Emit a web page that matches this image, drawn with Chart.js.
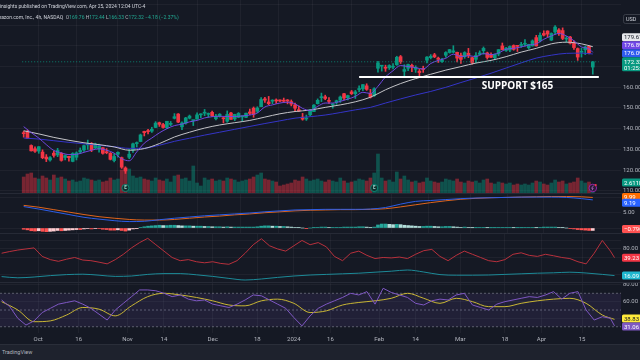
<!DOCTYPE html>
<html>
<head>
<meta charset="utf-8">
<script src="https://cdn.jsdelivr.net/npm/chart.js@4.4.1/dist/chart.umd.min.js"></script>
<style>
html, body { margin:0; padding:0; width:640px; height:360px; overflow:hidden; background:#151924; }
canvas { position:absolute; left:0; }
.hd { position:absolute; white-space:nowrap; font-family:Roboto, "Liberation Sans", sans-serif; font-size:5px; color:#d1d4dc; }
#h1 { top:3px; left:-3px; }
#h2 { top:14px; left:-6.5px; }
.lb { color:#b2b5be; }
.gv { color:#22ab94; }
#foot { position:absolute; left:0; top:344px; width:640px; height:16px; background:#1e222d; border-top:1px solid #2a2e39;
        box-sizing:border-box; color:#b2b5be; font:5.5px Roboto, sans-serif; line-height:15px; padding-left:2px; }
</style>
</head>
<body>
<canvas id="cPrice" width="680" height="193" style="top:0px"></canvas>
<canvas id="cMacd" width="680" height="40" style="top:193px"></canvas>
<canvas id="cRed" width="680" height="33" style="top:233px"></canvas>
<canvas id="cTeal" width="680" height="16" style="top:266px"></canvas>
<canvas id="cRsi" width="680" height="62" style="top:282px"></canvas>
<div id="h1" class="hd">ainsights published on TradingView.com, Apr 25, 2024 12:04 UTC-4</div>
<div id="h2" class="hd"></div>
<div id="foot">TradingView</div>
<script>
// trading days shown (one candle per day)
const tradingDays = {
  '2023-09': [19,20,21,22,25,26,27,28,29],
  '2023-10': [2,3,4,5,6,9,10,11,12,13,16,17,18,19,20,23,24,25,26,27,30,31],
  '2023-11': [1,2,3,6,7,8,9,10,13,14,15,16,17,20,21,22,24,27,28,29,30],
  '2023-12': [1,4,5,6,7,8,11,12,13,14,15,18,19,20,21,22,26,27,28,29],
  '2024-01': [2,3,4,5,8,9,10,11,12,16,17,18,19,22,23,24,25,26,29,30,31],
  '2024-02': [1,2,5,6,7,8,9,12,13,14,15,16,20,21,22,23,26,27,28,29],
  '2024-03': [1,4,5,6,7,8,11,12,13,14,15,18,19,20,21,22,25,26,27,28],
  '2024-04': [1,2,3,4,5,8,9,10,11,12,15,16,17,18,19,22,23,24,25]
};

const opens = [
  138.0,138.6,131.9,130.3,129.2,128.7,126.3,124.9,128.2,
  127.3,128.1,126.1,126.7,124.2,126.2,128.8,129.7,132.2,132.9,130.7,130.4,130.8,128.6,128.1,124.6,127.7,126.0,121.0,126.2,129.7,132.8,
  133.8,138.7,138.9,138.8,140.6,142.9,142.0,140.5,142.1,145.0,147.1,140.9,142.7,145.1,143.9,144.6,146.7,147.5,146.9,147.9,144.8,
  146.0,145.3,143.6,147.6,144.7,145.5,145.7,145.5,148.1,149.9,148.4,150.6,154.4,152.9,153.3,153.8,153.6,153.6,153.7,153.1,
  151.5,149.2,145.6,144.7,146.7,148.3,152.1,155.0,155.4,153.5,151.5,152.8,153.8,156.9,154.9,157.8,156.9,158.9,159.3,160.7,157.0,
  155.9,169.2,170.2,169.4,169.5,169.7,170.9,174.8,167.7,169.2,170.6,168.7,167.8,168.9,173.1,174.3,175.7,174.1,172.4,175.5,
  176.8,177.0,176.9,175.5,174.8,176.4,174.3,173.5,175.9,177.7,176.6,175.8,174.3,176.1,180.0,177.8,178.0,180.2,179.9,180.2,
  180.8,179.1,180.0,184.0,182.4,186.0,187.2,182.8,186.7,187.7,187.4,183.3,184.3,181.5,178.7,176.9,178.1,179.9,169.76
];
const highs = [
  138.8,139.4,132.2,131.3,131.4,129.8,127.5,126.5,129.2,
  130.5,128.5,127.4,126.7,128.4,128.8,130.7,132.1,134.5,133.3,133.0,132.6,130.9,130.4,128.5,127.9,128.8,126.3,121.6,130.0,133.0,133.6,
  137.4,138.8,139.7,140.7,143.4,143.2,142.6,143.6,143.5,147.3,147.3,143.3,145.5,146.6,144.1,147.7,147.2,149.3,147.6,148.5,146.9,
  147.3,145.4,148.6,147.9,147.0,147.8,146.2,147.5,149.5,150.5,150.6,155.0,155.1,155.6,154.0,154.4,154.0,154.8,154.1,153.9,
  152.4,151.0,147.4,146.6,149.4,151.7,154.4,157.2,156.2,155.0,152.2,153.8,155.8,157.1,156.2,158.5,158.5,160.7,161.3,161.7,159.0,
  159.8,172.5,170.6,170.7,170.9,171.4,175.0,175.4,170.9,171.2,171.2,170.4,168.7,170.2,174.8,175.8,176.4,174.6,174.0,177.2,
  178.3,180.1,177.0,176.5,177.2,178.8,174.5,176.8,177.6,179.5,177.0,176.7,176.1,178.2,181.4,179.3,180.0,180.5,180.0,181.7,
  183.0,180.8,182.9,185.1,186.3,187.3,187.3,186.3,189.8,188.4,188.7,184.6,184.6,182.4,179.0,178.9,179.9,180.0,172.44
];
const lows = [
  135.9,135.2,129.2,128.6,128.1,125.5,124.1,124.3,126.3,
  126.5,124.3,124.9,124.3,124.0,124.9,128.1,129.0,130.0,128.9,130.4,128.7,127.7,127.9,124.9,123.9,126.3,120.8,118.4,125.5,128.6,131.2,
  133.7,136.5,137.5,138.2,140.5,141.1,140.2,140.0,141.4,144.7,142.9,139.5,142.2,144.7,141.5,144.6,145.3,146.3,145.5,145.8,144.3,
  145.6,142.8,143.1,144.5,143.9,145.3,143.5,145.3,146.8,145.5,147.7,150.6,152.7,151.6,152.1,152.2,153.0,152.7,152.0,151.0,
  148.4,148.3,144.1,144.0,146.2,148.2,151.9,153.1,154.0,152.2,149.9,151.8,152.7,153.9,153.9,156.5,154.6,157.8,158.4,158.5,154.8,
  155.6,167.3,167.8,167.7,168.6,168.9,170.6,171.5,165.6,168.0,167.6,167.2,165.1,167.2,171.8,173.7,174.3,172.0,172.0,174.5,
  176.5,176.6,172.2,171.5,174.0,174.3,171.2,171.9,175.5,176.0,173.6,174.3,173.5,175.2,178.0,177.3,177.2,177.9,177.3,179.3,
  179.9,178.4,179.9,179.9,181.9,184.8,184.2,182.6,185.5,185.1,183.0,181.7,180.9,178.3,173.0,174.6,175.8,176.1,166.33
];
const closes = [
  137.6,135.3,129.3,129.1,131.3,126.0,125.4,126.0,127.1,
  129.5,124.7,127.0,126.0,128.0,128.3,129.5,131.8,132.3,129.8,132.6,131.5,128.1,128.4,125.2,126.6,128.6,121.4,119.6,127.7,132.7,133.1,
  137.0,138.1,138.6,139.7,142.7,142.1,140.6,143.6,142.6,145.8,143.2,142.8,145.2,146.1,143.9,146.7,146.7,147.7,147.0,146.3,146.1,
  147.0,144.8,146.9,144.5,146.9,147.4,145.9,147.5,147.4,147.0,150.0,154.1,153.8,152.1,153.8,153.4,153.4,153.3,153.4,151.9,
  149.9,148.5,144.6,145.2,149.1,151.4,153.7,155.2,154.6,153.2,151.7,153.5,155.3,154.8,156.0,156.9,157.8,159.1,161.3,159.0,155.2,
  159.3,171.8,170.3,169.2,170.5,169.8,174.5,172.3,168.6,171.0,169.8,169.5,167.1,168.6,174.6,175.0,174.7,173.5,173.2,176.8,
  178.2,177.6,174.1,173.5,176.8,175.4,172.0,175.4,176.6,178.8,174.4,174.5,175.9,178.2,178.2,178.9,179.7,178.3,179.8,180.4,
  181.0,180.7,182.4,180.0,185.1,185.2,185.7,186.0,189.1,186.1,183.6,183.3,181.3,179.2,174.6,177.2,179.5,176.5,172.32
];
// volume, millions
const volumes = [
  32,38,40,30,28,34,30,26,36,
  30,32,28,24,26,22,24,30,28,26,24,26,22,24,30,26,28,46,50,48,34,30,
  32,28,26,24,30,26,24,28,22,34,36,28,30,24,54,20,14,30,26,28,24,
  26,24,30,28,26,22,24,26,28,32,36,40,28,26,24,22,14,16,18,20,
  26,24,32,28,24,26,28,24,22,26,24,22,30,24,20,22,24,28,26,24,30,
  40,78,30,24,26,22,42,28,34,26,22,24,20,22,30,24,22,20,22,28,
  26,24,28,22,20,24,22,24,20,26,28,20,18,22,20,18,20,16,18,16,
  18,16,20,24,22,18,16,20,26,22,24,18,20,22,30,24,20,22,2.611
];

// moving averages: fast one read every 2nd bar, the others every 4th bar (plus the last bar)
const fastMA = [141.0,138.1,135.5,132.3,129.5,128.3,127.5,127.6,128.6,129.6,130.3,129.6,128.2,125.5,124.5,128.8,133.0,135.5,138.0,140.0,
  141.5,142.2,143.3,144.0,145.2,145.8,146.0,145.9,145.9,146.2,146.6,147.6,150.5,151.5,152.4,152.8,152.0,149.8,148.8,150.8,
  152.4,152.4,153.2,154.3,155.6,157.6,157.0,160.5,165.0,168.0,170.5,170.0,169.5,168.8,171.5,173.0,174.0,176.0,174.8,175.3,
  174.8,176.3,175.8,176.6,178.4,178.8,179.5,180.4,181.0,183.2,184.8,186.0,184.8,182.5,179.5,178.6,176.89];
const midMA = [139.0,137.5,135.8,134.4,133.2,132.3,131.2,129.6,130.4,132.8,136.0,138.3,140.3,141.8,142.9,144.0,145.6,147.2,148.3,149.0,
  150.3,151.5,153.0,155.2,158.8,161.8,164.2,166.3,168.3,170.0,171.7,173.0,174.8,177.0,178.8,181.0,181.8,181.0,179.61];
const slowMA = [135.5,135.0,134.2,133.4,132.7,132.0,131.3,130.5,130.6,132.0,133.9,135.4,136.9,138.3,139.7,141.1,142.5,143.8,145.1,145.8,
  146.6,147.8,149.1,150.3,152.4,154.4,156.3,158.0,160.0,162.3,164.5,166.8,169.3,171.8,174.1,175.5,176.4,176.5,176.09];

// MACD style pane (every 4th bar) and histogram (every bar)
const macdLine = [7.0,6.2,5.3,4.4,3.5,2.9,2.4,2.1,2.2,2.7,3.2,3.6,4.0,4.3,4.6,4.9,5.3,5.6,5.9,6.0,
  6.1,6.1,6.1,6.2,6.7,7.8,8.7,9.0,9.3,9.6,9.8,9.9,10.0,10.1,10.1,10.1,10.0,9.6,9.19];
const signalLine = [7.4,6.8,6.0,5.2,4.4,3.7,3.2,2.8,2.6,2.6,2.8,3.2,3.6,3.9,4.3,4.6,5.0,5.3,5.6,5.8,
  5.9,6.0,6.0,6.1,6.3,6.9,7.6,8.3,8.9,9.4,9.7,9.9,10.0,10.1,10.2,10.3,10.3,10.2,9.99];
const macdHist = [
  -0.4,-0.6,-0.9,-1.0,-0.9,-1.1,-1.2,-1.1,-1.0,-0.8,-0.9,-0.8,-0.7,-0.6,-0.5,-0.5,-0.3,-0.2,-0.3,-0.2,-0.2,-0.4,-0.5,-0.7,-0.7,-0.6,
  -0.8,-1.0,-0.7,-0.3,-0.1,
  0.2,0.4,0.6,0.7,0.8,0.9,0.8,0.8,0.9,0.9,0.8,0.7,0.7,0.7,0.6,0.6,0.6,0.5,0.5,0.4,0.4,0.4,0.3,0.4,0.3,0.3,0.3,0.3,0.3,0.3,
  0.3,0.4,0.6,0.7,0.7,0.6,0.6,0.5,0.5,0.4,0.3,0.2,0.1,0.0,-0.1,0.0,0.1,0.2,0.3,0.3,0.2,0.2,0.2,0.2,0.3,0.3,0.3,0.3,0.4,0.4,0.3,0.1,
  0.3,1.0,1.3,1.3,1.2,1.1,1.2,1.1,0.9,0.8,0.7,0.6,0.5,0.5,0.6,0.6,0.5,0.4,
  0.4,0.5,0.5,0.4,0.3,0.2,0.3,0.2,0.1,0.1,0.2,0.2,0.1,0.1,0.1,0.2,0.2,0.2,0.2,0.1,0.1,0.1,0.2,0.2,0.2,0.1,0.2,0.3,0.3,0.3,
  0.3,0.2,0.1,0.0,-0.2,-0.3,-0.5,-0.6,-0.7,-0.8,-0.79
];

// oscillators: red line and RSI every 2nd bar, teal line and RSI average every 4th bar
const redLine = [60,68,75,80,85,45,30,22,32,40,28,25,18,10,30,55,85,110,130,100,70,40,25,30,20,15,20,12,8,25,
  60,100,128,95,80,70,95,120,100,110,90,45,25,60,70,50,35,40,38,42,35,55,72,78,45,25,50,70,55,40,
  25,20,30,55,62,50,45,55,48,40,35,20,10,60,120,70,39.23];
const tealLine = [13.5,10.5,12.5,16.0,18.5,19.5,17.0,14.0,15.0,19.0,21.0,21.0,18.0,14.0,9.0,5.0,7.5,11.5,15.0,17.5,
  19.0,20.5,22.0,24.5,27.0,30.0,25.0,18.5,17.0,17.0,17.5,19.0,20.5,22.0,23.0,24.5,22.5,19.0,16.09];
const rsi = [62,54,40,32,37,47,52,57,59,61,57,52,45,38,50,58,66,74,74,73,70,66,68,63,61,62,57,55,53,57,
  62,68,67,62,57,52,41,31,43,52,57,61,65,70,68,72,57,76,71,68,65,58,56,61,63,62,68,70,56,53,
  50,57,60,62,64,66,65,68,72,63,70,72,50,38,42,40,31.06];
const rsiMA = [60,50,36,37,44,53,51,43,55,66,70,68,65,61,56,55,61,63,58,47,
  49,56,59,61,64,70,64,58,64,60,54,54,58,61,63,64,58,44,38.83];
const rsiLevels = [70, 50, 30];

const xTickLabels = [['2023-10-02','Oct'],['2023-10-16','16'],['2023-11-01','Nov'],['2023-11-14','14'],['2023-12-01','Dec'],
  ['2023-12-18','18'],['2024-01-02','2024'],['2024-01-16','16'],['2024-02-01','Feb'],['2024-02-14','14'],
  ['2024-03-01','Mar'],['2024-03-18','18'],['2024-04-01','Apr'],['2024-04-15','15']];
const priceTicks = [110,120,130,140,150,160,170,180,190,200];
const priceTickLabels = [110,120,130,140,150,160];
const supportLevel = 165, supportFrom = '2024-01-26', supportText = 'SUPPORT $165', supportTextAt = '2024-03-27';
const earnings = ['2023-10-26', '2024-02-01'];
const countdown = '01:25:15';

// ---------------------------------------------------------------
const dates = [];
Object.keys(tradingDays).forEach(m => tradingDays[m].forEach(d => dates.push(m + '-' + String(d).padStart(2, '0'))));
const last = dates.length - 1;
const X_MIN = -0.4, X_MAX = last + 1.6;
const sampled = n => dates.map((d, i) => i).filter(i => i % n === 0 || i === last);
const pts = (vals, n) => sampled(n).map((i, k) => ({x: i, y: vals[k]}));
const tickMap = {};
xTickLabels.forEach(([d, l]) => { tickMap[dates.indexOf(d)] = l; });
const xTickIdx = Object.keys(tickMap).map(Number);

const FONT = 'Roboto, "Liberation Sans", sans-serif';
const GRID = 'rgba(255,255,255,0.045)';
const TXT = '#b2b5be';
const UP = '#089981', DOWN = '#f23645';
const isUp = i => closes[i] >= opens[i];
const minus = s => s.replace('-', '\u2212');

function xAxis(show) {
  return {
    type: 'linear', min: X_MIN, max: X_MAX, bounds: 'data',
    grid: { color: GRID, drawTicks: false }, border: { display: false },
    ticks: { display: show, padding: 3, color: TXT, font: { family: FONT, size: 6 }, maxRotation: 0, autoSkip: false,
             callback: v => tickMap[v] || '' },
    afterBuildTicks: s => { s.ticks = xTickIdx.map(v => ({value: v})); },
    afterFit: s => { s.height = show ? 11 : 0; s.paddingLeft = 0; s.paddingRight = 0; }
  };
}
function yAxis(min, max, ticks, shown) {
  return {
    position: 'right', min, max, bounds: 'data',
    grid: { color: GRID, drawTicks: false }, border: { display: false },
    ticks: { padding: 2, color: TXT, font: { family: FONT, size: 6 }, callback: v => shown.includes(v) ? v.toFixed(2) : '' },
    afterBuildTicks: s => { s.ticks = ticks.map(v => ({value: v})); },
    afterFit: s => { s.width = 59; s.paddingTop = 0; s.paddingBottom = 0; }
  };
}
const line = (data, color, extra) => Object.assign({ type: 'line', data, borderColor: color, borderWidth: 1,
  pointRadius: 0, fill: false, order: 1 }, extra || {});
const smooth = { cubicInterpolationMode: 'monotone' };

// value tags on the right axis
function tagPlugin(tags) {
  return {
    id: 'tags',
    afterDraw(chart) {
      const ctx = chart.ctx, a = chart.chartArea;
      const list = tags.map(t => Object.assign({}, t, {
        y: chart.scales[t.axis || 'y'].getPixelForValue(t.value), up: t.sub ? 4.5 : 4, down: t.sub ? 9.5 : 4 }));
      list.sort((p, q) => p.y - q.y);
      for (let k = 0; k < 40; k++) {
        for (let i = 0; i < list.length - 1; i++) {
          const p = list[i], q = list[i + 1];
          const ov = p.y + p.down - (q.y - q.up);
          if (ov > 0) {
            if (p.fixed) q.y += ov; else if (q.fixed) p.y -= ov; else { p.y -= ov / 2; q.y += ov / 2; }
          }
        }
      }
      ctx.save();
      ctx.font = '6px ' + FONT; ctx.textBaseline = 'middle'; ctx.textAlign = 'left';
      list.forEach(t => {
        const y = Math.min(Math.max(t.y, t.up), chart.height - t.down);
        ctx.fillStyle = t.bg;
        ctx.beginPath(); ctx.roundRect(a.right + 1, y - t.up, 60, t.up + t.down, 1.5); ctx.fill();
        ctx.fillStyle = t.fg || '#ffffff';
        ctx.fillText(t.text, a.right + 3, y + 0.5);
        if (t.sub) ctx.fillText(t.sub, a.right + 3, y + 6.5);
      });
      ctx.restore();
    }
  };
}
const separator = {
  id: 'separator',
  afterDraw(chart) {
    const ctx = chart.ctx;
    ctx.save(); ctx.fillStyle = '#262a36'; ctx.fillRect(0, 0, chart.width, 1); ctx.restore();
  }
};
const common = {
  responsive: false, animation: false, devicePixelRatio: 1, events: [],
  layout: { padding: 0 },
  plugins: { legend: { display: false }, tooltip: { enabled: false } }
};

// ---------------- price pane ----------------
const volAvg = volumes.slice(last - 20, last).reduce((s, v) => s + v, 0) / 20;
const priceExtras = {
  id: 'priceExtras',
  afterDatasetsDraw(chart) {
    const { ctx, chartArea: a, scales: { x, y } } = chart;
    ctx.save();
    ctx.font = 'bold 10px "Open Sans", sans-serif';
    ctx.fillStyle = '#ffffff'; ctx.textAlign = 'center'; ctx.textBaseline = 'middle';
    ctx.fillText(supportText, x.getPixelForValue(dates.indexOf(supportTextAt)), y.getPixelForValue(supportLevel) + 9);
    // earnings markers
    ctx.font = 'bold 4.5px ' + FONT;
    earnings.forEach(d => {
      const cx = x.getPixelForValue(dates.indexOf(d)), cy = a.bottom - 5;
      ctx.beginPath(); ctx.arc(cx, cy, 3.6, 0, Math.PI * 2);
      ctx.fillStyle = '#10302e'; ctx.fill(); ctx.strokeStyle = UP; ctx.lineWidth = 0.8; ctx.stroke();
      ctx.fillStyle = '#9fd8cf'; ctx.fillText('E', cx, cy + 0.3);
    });
    // upcoming event marker
    const lx = x.getPixelForValue(last), ly = a.bottom - 5;
    ctx.beginPath(); ctx.arc(lx, ly, 3.8, 0, Math.PI * 2);
    ctx.fillStyle = '#2a1838'; ctx.fill(); ctx.strokeStyle = '#9c27b0'; ctx.lineWidth = 0.9; ctx.stroke();
    ctx.beginPath(); ctx.moveTo(lx + 0.8, ly - 2.4); ctx.lineTo(lx - 1.2, ly + 0.3); ctx.lineTo(lx + 0.4, ly + 0.3);
    ctx.lineTo(lx - 0.8, ly + 2.4); ctx.strokeStyle = '#c27ad6'; ctx.lineWidth = 0.7; ctx.stroke();
    ctx.beginPath(); ctx.arc(lx + 2.9, ly - 2.9, 1.1, 0, Math.PI * 2); ctx.fillStyle = '#f23645'; ctx.fill();
    ctx.restore();
  },
  afterDraw(chart) {
    const ctx = chart.ctx, a = chart.chartArea;
    ctx.save();
    ctx.strokeStyle = '#434651'; ctx.lineWidth = 0.8;
    ctx.beginPath(); ctx.roundRect(a.right + 2.5, 14.5, 22, 9, 2); ctx.stroke();
    ctx.fillStyle = '#d1d4dc'; ctx.font = '5.5px ' + FONT; ctx.textBaseline = 'middle';
    ctx.fillText('USD', a.right + 5, 19.2);
    ctx.restore();
  }
};

new Chart(document.getElementById('cPrice'), {
  type: 'bar',
  data: { datasets: [
    { data: volumes.map((v, i) => ({x: i, y: v})), yAxisID: 'vol', barThickness: 3, grouped: false, order: 10,
      backgroundColor: volumes.map((v, i) => isUp(i) ? 'rgba(8,153,129,0.45)' : 'rgba(242,54,69,0.45)') },
    { data: dates.map((d, i) => ({x: i, y: [lows[i], highs[i]]})), barThickness: 1, grouped: false, order: 6,
      backgroundColor: dates.map((d, i) => isUp(i) ? UP : DOWN) },
    { data: dates.map((d, i) => ({x: i, y: [opens[i], closes[i]]})), barThickness: 3, minBarLength: 1, grouped: false, order: 5,
      backgroundColor: dates.map((d, i) => isUp(i) ? UP : DOWN) },
    line(pts(slowMA, 4), '#3535c8', Object.assign({ order: 3 }, smooth)),
    line(pts(midMA, 4), '#c4c4c8', Object.assign({ order: 2 }, smooth)),
    line(pts(fastMA, 2), '#7048e0', Object.assign({ order: 1 }, smooth)),
    line([{x: X_MIN, y: closes[last]}, {x: X_MAX, y: closes[last]}], 'rgba(8,153,129,0.8)', { borderDash: [1, 2], order: 0 }),
    line([{x: dates.indexOf(supportFrom), y: supportLevel}, {x: X_MAX, y: supportLevel}], '#ffffff', { borderWidth: 2, order: 0 })
  ] },
  options: Object.assign({}, common, {
    scales: {
      x: xAxis(false),
      y: yAxis(108.94, 202.17, priceTicks, priceTickLabels),
      vol: { display: false, min: 0, max: 386 }
    }
  }),
  plugins: [priceExtras, tagPlugin([
    { value: midMA[midMA.length - 1], text: midMA[midMA.length - 1].toFixed(2), bg: '#e6e7eb', fg: '#131722' },
    { value: fastMA[fastMA.length - 1], text: fastMA[fastMA.length - 1].toFixed(2), bg: '#7046e6' },
    { value: slowMA[slowMA.length - 1], text: slowMA[slowMA.length - 1].toFixed(2), bg: '#2f5bf0' },
    { value: closes[last], text: closes[last].toFixed(2), sub: countdown, bg: UP, fixed: true },
    { axis: 'vol', value: volAvg, text: volumes[last].toFixed(3) + 'M', bg: UP }
  ])]
});

// ---------------- MACD pane ----------------
const histColor = macdHist.map((v, i) => {
  const prev = i ? macdHist[i - 1] : v;
  if (v >= 0) return v >= prev ? '#26a69a' : '#b2dfdb';
  return v <= prev ? '#ff5252' : '#ffcdd2';
});
new Chart(document.getElementById('cMacd'), {
  type: 'bar',
  data: { datasets: [
    { data: macdHist.map((v, i) => ({x: i, y: v})), backgroundColor: histColor, barThickness: 3, grouped: false, order: 5 },
    line(pts(signalLine, 4), '#e0651c', Object.assign({ order: 2 }, smooth)),
    line(pts(macdLine, 4), '#2c5ee8', Object.assign({ order: 1 }, smooth))
  ] },
  options: Object.assign({}, common, { scales: { x: xAxis(false), y: yAxis(-1.63, 11.44, [0, 5, 10], [5]) } }),
  plugins: [separator, tagPlugin([
    { value: signalLine[signalLine.length - 1], text: signalLine[signalLine.length - 1].toFixed(2), bg: '#ff6d00' },
    { value: macdLine[macdLine.length - 1], text: macdLine[macdLine.length - 1].toFixed(2), bg: '#2962ff' },
    { value: macdHist[last], text: minus(macdHist[last].toFixed(3)), bg: '#ff5252' }
  ])]
});

// ---------------- red line pane ----------------
new Chart(document.getElementById('cRed'), {
  type: 'line',
  data: { datasets: [ line(pts(redLine, 2), '#b8313d') ] },
  options: Object.assign({}, common, { scales: { x: xAxis(false), y: yAxis(0, 155, [40, 80, 120], [80]) } }),
  plugins: [separator, tagPlugin([{ value: redLine[redLine.length - 1], text: redLine[redLine.length - 1].toFixed(2), bg: '#f23645' }])]
});

// ---------------- teal line pane ----------------
new Chart(document.getElementById('cTeal'), {
  type: 'line',
  data: { datasets: [ line(pts(tealLine, 4), '#1d8a98', smooth) ] },
  options: Object.assign({}, common, { scales: { x: xAxis(false), y: yAxis(0, 40, [20], []) } }),
  plugins: [tagPlugin([{ value: tealLine[tealLine.length - 1], text: tealLine[tealLine.length - 1].toFixed(2), bg: '#1fb7cf' }])]
});

// ---------------- RSI pane ----------------
const level = v => [{x: X_MIN, y: v}, {x: X_MAX, y: v}];
const levelStyle = { borderColor: 'rgba(120,123,134,0.7)', borderDash: [2, 2], order: 5 };
new Chart(document.getElementById('cRsi'), {
  type: 'line',
  data: { datasets: [
    line(level(rsiLevels[0]), '', levelStyle),
    line(level(rsiLevels[2]), '', Object.assign({}, levelStyle, { fill: '-1', backgroundColor: 'rgba(126,87,194,0.12)' })),
    line(level(rsiLevels[1]), '', levelStyle),
    line(pts(rsiMA, 4), '#c9b634', Object.assign({ order: 2 }, smooth)),
    line(pts(rsi, 2), '#7e57c2', { order: 1 })
  ] },
  options: Object.assign({}, common, { scales: { x: xAxis(true), y: yAxis(22.5, 83.5, [40, 60, 80], [60, 80]) } }),
  plugins: [separator, tagPlugin([
    { value: rsiMA[rsiMA.length - 1], text: rsiMA[rsiMA.length - 1].toFixed(2), bg: '#ffeb3b', fg: '#131722' },
    { value: rsi[rsi.length - 1], text: rsi[rsi.length - 1].toFixed(2), bg: '#7e57c2' }
  ])]
});

// ---------------- header ----------------
const chg = closes[last] - closes[last - 1];
const pct = chg / closes[last - 1] * 100;
document.getElementById('h2').innerHTML = 'Amazon.com, Inc., 4h, NASDAQ&nbsp; ' +
  [['O', opens[last]], ['H', highs[last]], ['L', lows[last]], ['C', closes[last]]]
    .map(([k, v]) => '<span class="lb">' + k + '</span><span class="gv">' + v.toFixed(2) + '</span>').join(' ') +
  ' <span class="gv">' + minus(chg.toFixed(2)) + ' (' + minus(pct.toFixed(2)) + '%)</span>';
</script>
</body>
</html>
